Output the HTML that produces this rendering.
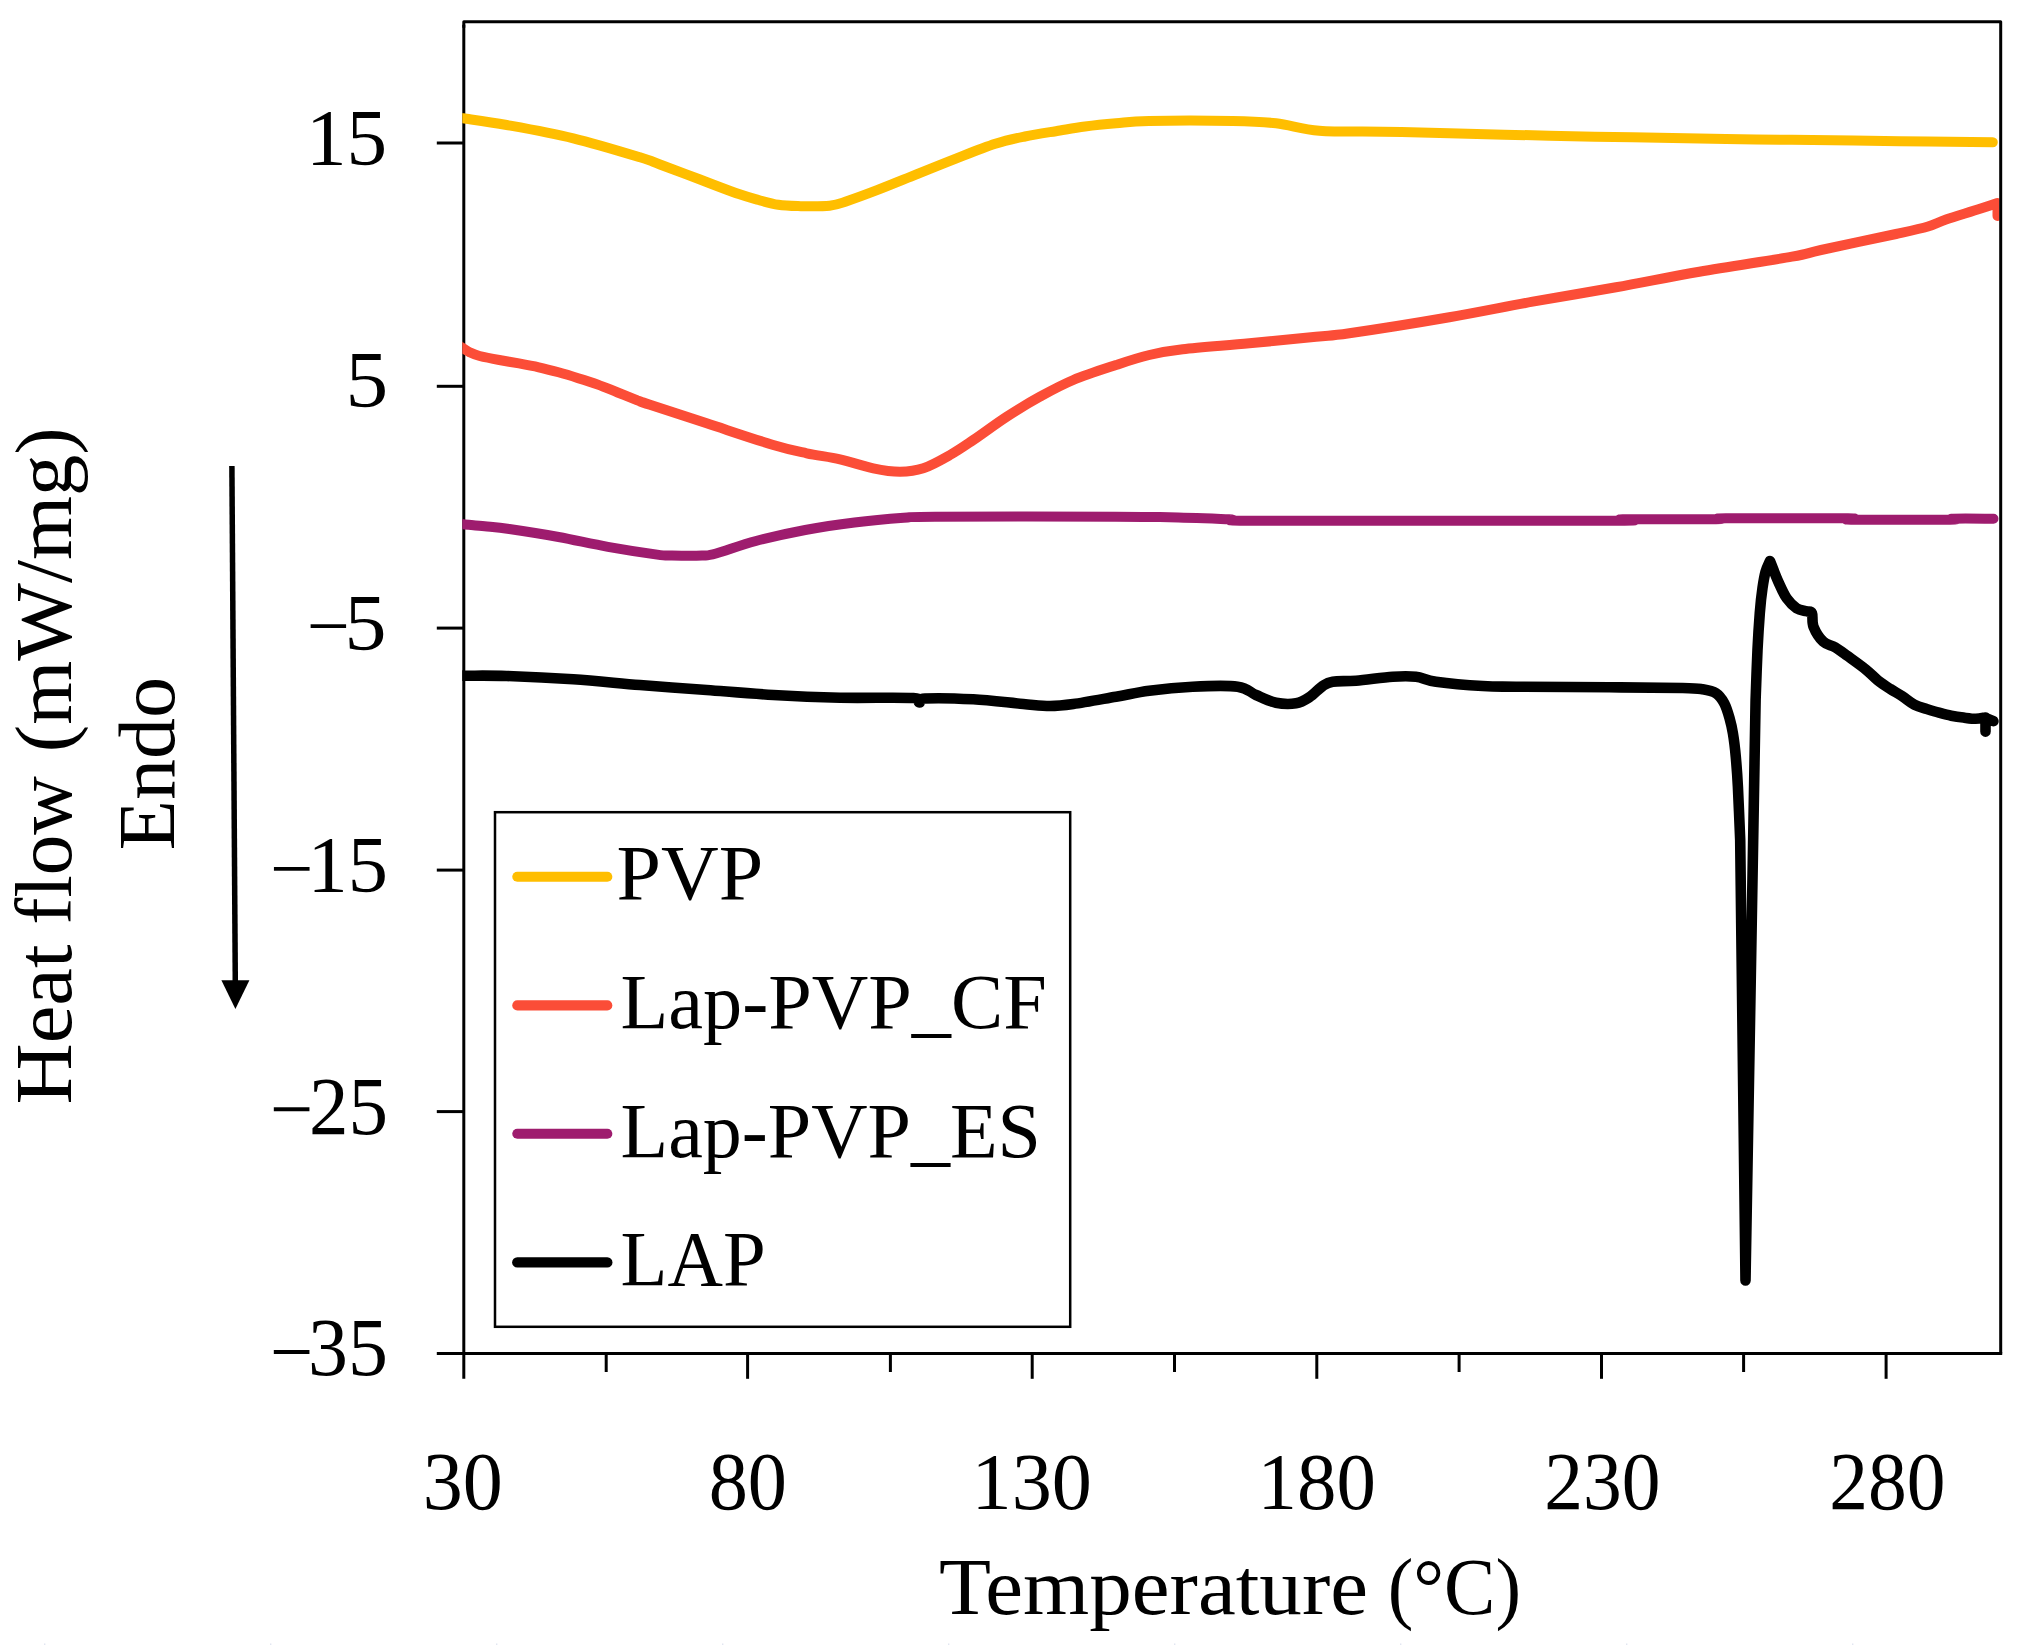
<!DOCTYPE html>
<html lang="en"><head><meta charset="utf-8"><title>DSC thermograms</title>
<style>
html,body{margin:0;padding:0;background:#fff}
body{width:2028px;height:1652px;overflow:hidden}
svg{display:block}
text{font-family:'Liberation Serif', serif;fill:#000}
</style></head><body>
<svg width="2028" height="1652" viewBox="0 0 2028 1652">
<rect width="2028" height="1652" fill="#fff"/>
<defs><clipPath id="plot"><rect x="462.3" y="23" width="1537.2" height="1329"/></clipPath></defs>

<g stroke="#000" stroke-width="3.0" fill="none" stroke-linecap="butt">
<path d="M463.8,24.8 V1378.8"/>
<path d="M436.8,1353.4 H2002.2"/>
<path d="M436.8,143.0 H463.8"/>
<path d="M436.8,386.3 H463.8"/>
<path d="M436.8,628.1 H463.8"/>
<path d="M436.8,870.1 H463.8"/>
<path d="M436.8,1111.6 H463.8"/>
<path d="M747.6,1353.4 V1378.8"/>
<path d="M1032.2,1353.4 V1378.8"/>
<path d="M1316.8,1353.4 V1378.8"/>
<path d="M1601.5,1353.4 V1378.8"/>
<path d="M1886.1,1353.4 V1378.8"/>
<path d="M606.2,1353.4 V1372"/>
<path d="M890.4,1353.4 V1372"/>
<path d="M1174.5,1353.4 V1372"/>
<path d="M1459.1,1353.4 V1372"/>
<path d="M1743.6,1353.4 V1372"/>
</g>
<g clip-path="url(#plot)" fill="none" stroke-width="10.0" stroke-linecap="round" stroke-linejoin="round">
<path stroke="#FFBE00" d="M455.0,117.3C456.4,117.5 454.7,117.0 463.3,118.3C471.9,119.6 488.4,121.7 506.7,125.0C525.0,128.3 551.1,132.9 573.3,138.3C595.5,143.7 625.5,152.9 640.0,157.3C654.5,161.7 650.1,160.8 660.0,164.5C669.9,168.2 686.2,174.4 699.4,179.3C712.5,184.2 729.0,190.7 738.9,194.1C748.8,197.5 752.0,198.2 758.6,200.0C765.2,201.8 771.7,203.8 778.3,204.8C784.9,205.8 789.5,205.9 798.0,206.1C806.5,206.2 821.4,206.5 829.6,205.7C837.8,204.8 839.5,203.6 847.4,201.0C855.3,198.4 865.5,194.6 877.0,190.2C888.5,185.8 903.2,179.7 916.4,174.4C929.5,169.1 942.8,163.7 955.9,158.6C969.0,153.5 983.8,147.5 995.3,143.8C1006.8,140.1 1014.1,138.7 1024.9,136.5C1035.7,134.3 1050.0,132.2 1060.0,130.5C1070.0,128.8 1075.7,127.7 1085.0,126.5C1094.3,125.3 1105.3,124.2 1116.0,123.3C1126.7,122.4 1129.5,121.4 1149.0,121.0C1168.5,120.6 1211.5,120.6 1232.7,121.0C1253.9,121.4 1261.6,121.7 1276.0,123.3C1290.4,124.9 1301.5,129.3 1319.3,130.7C1337.1,132.1 1361.0,131.3 1382.7,131.7C1404.4,132.1 1421.5,132.6 1449.3,133.3C1477.1,134.0 1518.7,135.0 1549.3,135.7C1579.9,136.4 1603.2,136.8 1632.7,137.3C1662.2,137.9 1699.5,138.6 1726.0,139.0C1752.5,139.4 1763.0,139.4 1792.0,139.8C1821.0,140.2 1866.5,140.8 1900.0,141.2C1933.5,141.6 1977.3,142.1 1992.8,142.3"/>
<path stroke="#FB4D37" d="M455.0,343.0C456.4,343.9 460.8,346.8 463.3,348.4C465.8,350.0 467.3,351.2 470.0,352.5C472.7,353.8 474.7,354.8 479.6,356.0C484.5,357.2 492.7,358.8 499.3,360.0C505.9,361.2 512.4,362.2 519.0,363.4C525.6,364.6 532.2,365.8 538.8,367.3C545.4,368.8 551.9,370.5 558.5,372.3C565.1,374.1 571.6,376.1 578.2,378.2C584.8,380.2 591.3,382.2 597.9,384.6C604.5,387.0 611.1,389.9 617.7,392.5C624.3,395.1 632.0,398.3 637.4,400.4C642.8,402.4 638.5,401.0 650.0,404.8C661.5,408.6 686.2,416.6 706.7,423.3C727.2,430.0 756.6,440.0 773.3,445.0C790.0,450.0 795.6,450.9 806.7,453.3C817.8,455.7 828.9,456.8 840.0,459.3C851.1,461.8 863.3,466.2 873.3,468.3C883.3,470.4 891.7,471.7 900.0,471.7C908.3,471.7 915.0,471.1 923.3,468.3C931.6,465.5 941.7,459.7 950.0,455.0C958.3,450.3 963.8,446.4 973.3,440.0C982.8,433.6 995.6,423.9 1006.7,416.7C1017.8,409.5 1028.9,402.8 1040.0,396.7C1051.1,390.6 1060.6,385.3 1073.3,380.0C1086.0,374.7 1103.3,369.2 1116.0,365.0C1128.7,360.8 1138.2,357.6 1149.3,355.0C1160.4,352.4 1166.0,351.2 1182.7,349.3C1199.4,347.4 1227.1,345.4 1249.3,343.3C1271.5,341.2 1299.3,338.4 1316.0,336.7C1332.7,335.0 1327.1,336.5 1349.3,333.3C1371.5,330.1 1418.7,322.6 1449.3,317.3C1479.9,312.0 1504.9,306.7 1532.7,301.7C1560.5,296.7 1588.2,292.3 1616.0,287.3C1643.8,282.3 1670.0,276.8 1699.3,271.7C1728.6,266.6 1771.7,260.3 1792.0,256.7C1812.3,253.1 1803.7,253.8 1821.0,250.0C1838.3,246.2 1878.2,237.9 1896.0,234.0C1913.8,230.1 1919.7,228.9 1928.0,226.5C1936.3,224.1 1937.3,222.4 1946.0,219.5C1954.7,216.6 1971.4,211.6 1980.0,208.8C1988.6,206.1 1994.6,204.0 1997.5,203.0L1997.5,216"/>
<path stroke="#9E1C6E" d="M455.0,523.3C456.4,523.4 458.4,523.7 463.3,524.2C468.2,524.7 477.0,525.4 484.7,526.2C492.4,527.0 497.0,527.2 509.3,529.0C521.6,530.8 542.2,534.0 558.6,537.0C575.0,540.0 591.5,543.9 607.9,546.8C624.3,549.7 646.5,553.1 657.2,554.6C667.9,556.1 664.5,555.4 672.0,555.6C679.5,555.8 694.7,556.0 702.0,555.6C709.3,555.2 707.0,555.9 716.0,553.5C725.0,551.1 741.0,544.9 755.9,541.0C770.8,537.1 788.8,533.1 805.2,530.0C821.6,526.9 838.1,524.5 854.5,522.5C870.9,520.5 890.4,518.8 903.8,517.8C917.2,516.8 899.6,516.9 935.0,516.7C970.4,516.5 1077.0,516.6 1116.0,516.7C1155.0,516.8 1150.2,516.9 1169.0,517.3C1187.8,517.7 1212.8,518.7 1229.0,519.3C1245.2,519.9 1202.7,520.5 1266.0,520.7C1329.3,520.9 1549.5,520.9 1609.0,520.7C1668.5,520.5 1604.9,519.5 1622.7,519.3C1640.5,519.0 1698.8,519.4 1716.0,519.2C1733.2,519.0 1704.0,518.4 1726.0,518.3C1748.0,518.1 1827.2,518.1 1848.0,518.3C1868.8,518.5 1834.0,519.5 1851.0,519.7C1868.0,519.9 1933.0,519.9 1950.0,519.7C1967.0,519.5 1945.8,518.9 1953.0,518.7C1960.2,518.5 1986.8,518.7 1993.5,518.7"/>
<path stroke="#000" stroke-width="10.6" d="M455.0,675.5C456.7,675.5 456.4,675.6 465.0,675.7C473.6,675.8 488.6,675.4 506.7,676.0C524.8,676.6 551.1,677.8 573.3,679.3C595.5,680.8 617.8,683.2 640.0,685.0C662.2,686.8 684.5,688.3 706.7,690.0C728.9,691.7 751.1,693.7 773.3,695.0C795.5,696.3 816.7,697.2 840.0,697.7C863.3,698.2 900.1,697.2 913.3,698.0C926.5,698.8 917.3,702.4 919.3,702.5C921.2,702.6 916.0,699.0 925.0,698.5C934.0,698.0 956.9,698.4 973.3,699.3C989.7,700.2 1010.5,702.9 1023.3,704.0C1036.1,705.1 1041.7,706.0 1050.0,706.0C1058.3,706.0 1062.3,705.5 1073.3,704.0C1084.3,702.5 1103.3,698.9 1116.0,696.7C1128.7,694.5 1136.5,692.4 1149.3,690.7C1162.1,689.0 1178.0,687.4 1192.7,686.7C1207.4,686.0 1227.2,685.3 1237.7,686.7C1248.2,688.1 1249.6,692.3 1256.0,695.0C1262.4,697.7 1269.3,701.3 1276.0,702.7C1282.7,704.1 1290.5,704.2 1296.0,703.3C1301.5,702.4 1304.8,700.2 1309.3,697.3C1313.8,694.4 1318.8,688.6 1322.7,686.0C1326.6,683.4 1327.2,682.6 1332.7,681.7C1338.2,680.8 1346.0,681.5 1356.0,680.7C1366.0,679.9 1382.7,677.4 1392.7,676.7C1402.7,676.0 1408.8,675.9 1416.0,676.7C1423.2,677.5 1424.9,680.2 1436.0,681.7C1447.1,683.2 1469.4,685.2 1482.7,686.0C1496.0,686.8 1494.9,686.5 1516.0,686.7C1537.1,686.9 1581.5,687.1 1609.3,687.3C1637.1,687.5 1667.1,687.7 1682.7,688.0C1698.3,688.3 1697.2,688.4 1702.7,689.3C1708.2,690.2 1712.4,691.0 1716.0,693.3C1719.6,695.6 1722.0,699.2 1724.3,703.3C1726.5,707.4 1728.1,713.0 1729.5,718.0C1730.9,723.0 1731.9,726.8 1732.9,733.3C1734.0,739.8 1735.0,748.1 1735.8,757.0C1736.6,765.9 1737.2,772.9 1737.9,786.7C1738.6,800.5 1739.8,831.1 1740.2,840.0L1745.5,1280.5L1755.6,700L1755.6,700.0C1755.9,691.7 1756.8,664.5 1757.5,650.0C1758.2,635.5 1759.0,623.3 1759.8,613.0C1760.6,602.7 1761.5,594.8 1762.5,588.0C1763.5,581.2 1764.2,576.5 1765.5,572.0C1766.8,567.5 1769.2,562.8 1770.0,561.0L1770.0,561.0C1771.4,564.5 1775.5,575.5 1778.3,581.7C1781.1,587.9 1783.6,593.9 1786.7,598.3C1789.8,602.7 1793.4,606.1 1796.7,608.3C1800.0,610.5 1804.2,610.5 1806.7,611.3C1809.2,612.1 1810.9,610.7 1812.0,613.3C1813.1,615.9 1811.6,622.0 1813.5,626.7C1815.4,631.4 1819.7,638.3 1823.3,641.7C1826.9,645.1 1831.0,644.9 1835.0,647.3C1839.0,649.6 1842.2,652.1 1847.3,655.8C1852.4,659.5 1860.5,665.2 1865.6,669.3C1870.7,673.4 1873.7,677.0 1877.8,680.3C1881.9,683.5 1885.9,686.1 1890.0,688.8C1894.1,691.4 1898.2,693.6 1902.3,696.2C1906.4,698.9 1910.4,702.6 1914.5,704.7C1918.6,706.8 1922.6,707.7 1926.7,709.0C1930.8,710.3 1934.9,711.6 1939.0,712.7C1943.1,713.8 1947.1,714.9 1951.2,715.7C1955.3,716.5 1959.3,717.1 1963.4,717.6C1967.5,718.1 1972.0,718.8 1975.7,718.8C1979.4,718.8 1983.9,717.7 1985.5,717.5L1985.5,731.6L1985.5,718L1993.4,721.2"/>
</g>
<path d="M463.8,27.8 V21.8 H2000.7 V1353.4" fill="none" stroke="#000" stroke-width="3.0" stroke-linejoin="round"/>
<rect x="495" y="812.2" width="575.2" height="514.6" fill="#fff" stroke="#000" stroke-width="2.5"/>
<path d="M517.3,876.7 H607.3" stroke="#FFBE00" stroke-width="10.1" stroke-linecap="round" fill="none"/>
<path d="M517.3,1005.4 H607.3" stroke="#FB4D37" stroke-width="10.1" stroke-linecap="round" fill="none"/>
<path d="M517.3,1133.8 H607.3" stroke="#9E1C6E" stroke-width="10.1" stroke-linecap="round" fill="none"/>
<path d="M517.3,1262.4 H607.3" stroke="#000" stroke-width="10.4" stroke-linecap="round" fill="none"/>
<text transform="translate(616.60,899.30) scale(1.0184,1)" font-size="78.50" >PVP</text>
<text transform="translate(620.55,1027.70) scale(0.9971,1)" font-size="78.50" >Lap-PVP_CF</text>
<text transform="translate(620.56,1156.90) scale(0.9941,1)" font-size="78.50" >Lap-PVP_ES</text>
<text transform="translate(620.60,1285.00) scale(0.9785,1)" font-size="78.50" >LAP</text>
<text transform="translate(305.99,164.99) scale(1.0064,1)" font-size="80.75" >15</text>
<text transform="translate(345.47,407.00) scale(1.0728,1)" font-size="79.70" >5</text>
<text transform="translate(344.46,650.10) scale(1.0540,1)" font-size="79.70"><tspan x="-35.55" y="0.31" font-size="72.27">−</tspan><tspan x="0" y="0">5</tspan></text>
<text transform="translate(307.56,891.90) scale(1.0039,1)" font-size="80.15"><tspan x="-37.34" y="1.66" font-size="76.30">−</tspan><tspan x="0" y="0">15</tspan></text>
<text transform="translate(308.94,1134.07) scale(0.9570,1)" font-size="82.58"><tspan x="-40.62" y="2.14" font-size="80.04">−</tspan><tspan x="0" y="0">25</tspan></text>
<text transform="translate(308.11,1375.38) scale(0.9764,1)" font-size="81.82"><tspan x="-38.95" y="2.60" font-size="78.44">−</tspan><tspan x="0" y="0">35</tspan></text>
<text transform="translate(422.79,1509.07) scale(0.9830,1)" font-size="81.49" >30</text>
<text transform="translate(708.67,1509.07) scale(0.9603,1)" font-size="81.49" >80</text>
<text transform="translate(971.58,1508.88) scale(0.9918,1)" font-size="80.88" >130</text>
<text transform="translate(1257.50,1508.88) scale(0.9756,1)" font-size="80.88" >180</text>
<text transform="translate(1544.20,1508.96) scale(0.9471,1)" font-size="81.79" >230</text>
<text transform="translate(1829.20,1508.96) scale(0.9471,1)" font-size="81.79" >280</text>
<text transform="translate(939.10,1614.00) scale(1.0643,1)" font-size="80.00" >Temperature</text>
<text transform="translate(1387.72,1614.00) scale(0.9614,1)" font-size="80.00" >(°C)</text>
<text transform="translate(70.60,1104.54) rotate(-90) scale(1.0661,1)" font-size="79.50">Heat</text>
<text transform="translate(70.60,924.73) rotate(-90) scale(1.0203,1)" font-size="79.50">flow</text>
<text transform="translate(70.60,752.30) rotate(-90) scale(1.0366,1)" font-size="79.50">(mW/mg)</text>
<text transform="translate(173.60,850.26) rotate(-90) scale(1.0328,1)" font-size="79.50">Endo</text>
<path d="M231.9,466 L235.3,983" stroke="#000" stroke-width="5.5" fill="none"/>
<path d="M221.4,980.3 L249.4,980.3 L235.4,1009 Z" fill="#000"/>
<g fill="#dfe4f0"><rect x="44" y="1643.5" width="1.4" height="1.4"/><rect x="270" y="1643.5" width="1.4" height="1.4"/><rect x="496" y="1643.5" width="1.4" height="1.4"/><rect x="722" y="1643.5" width="1.4" height="1.4"/><rect x="948" y="1643.5" width="1.4" height="1.4"/><rect x="1174" y="1643.5" width="1.4" height="1.4"/><rect x="1400" y="1643.5" width="1.4" height="1.4"/><rect x="1626" y="1643.5" width="1.4" height="1.4"/><rect x="1852" y="1643.5" width="1.4" height="1.4"/></g>
</svg>
</body></html>
